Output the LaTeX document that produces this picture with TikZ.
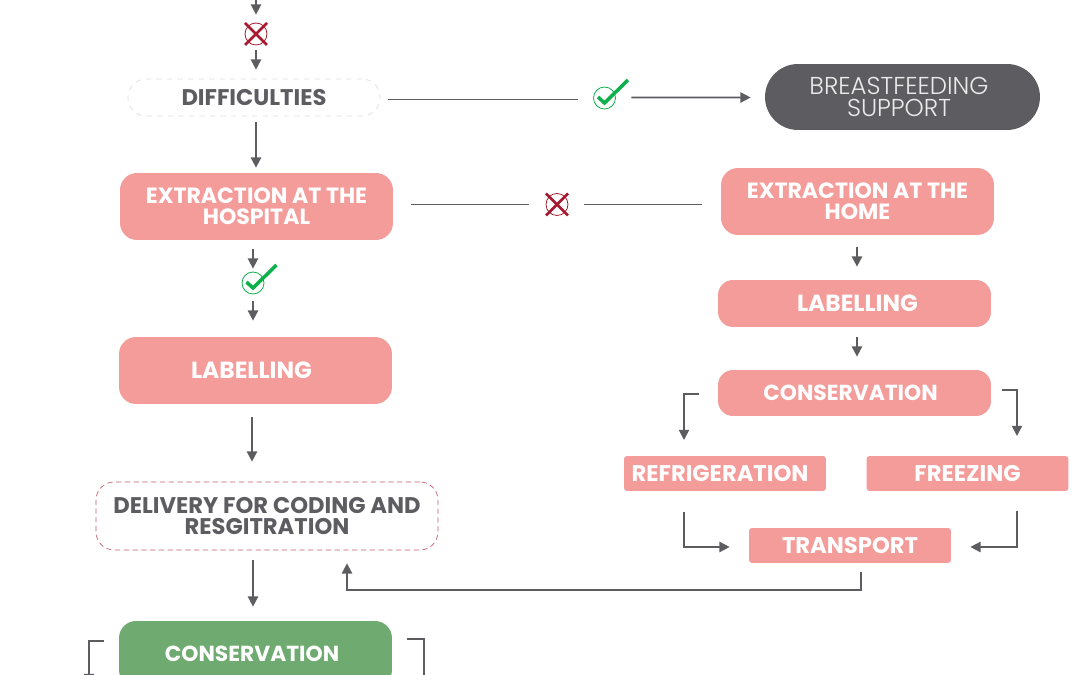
\documentclass[tikz,border=0pt]{standalone}
\usepackage{fontspec}
\setmainfont{Poppins}
\newfontfamily\lightfont{Poppins Light}
\usetikzlibrary{arrows.meta}
\definecolor{mygray}{HTML}{5D5C61}
\definecolor{mypink}{HTML}{F49C9A}
\definecolor{mygreen}{HTML}{6FAB70}
\definecolor{myred}{HTML}{A6192E}
\definecolor{mycheck}{HTML}{0DB14B}
\begin{document}
\begin{tikzpicture}[x=0.02cm,y=-0.02cm,
  myfont/.style={font=\bfseries\fontsize{#1}{12.1}\selectfont},
  mybox/.style={draw=none, fill=mypink, text=white, myfont=12.9, align=center, inner sep=0pt, rounded corners=0.34cm, minimum width=5.46cm, minimum height=1.34cm},
  mysmall/.style={mybox, rounded corners=0.06cm, minimum width=4.04cm, minimum height=0.7cm},
  mydash/.style={mybox, fill=none, text=mygray},
  mymark/.style={circle, draw, inner sep=0pt, minimum size=0.44cm, line width=0.45pt},
  myline/.style={draw=mygray, line width=0.95pt},
  myarrow/.style={myline, -{Triangle[width=5.8pt,length=5.8pt]}}]
  \clip (0,0) rectangle (1080,675);

  % left column
  \coordinate (top) at (256,0);
  \node[mymark, draw=myred] (xa) at (256,34) {};
  \node[mydash, draw=black!13, dashed, rounded corners=0.36cm, minimum width=5.04cm, minimum height=0.74cm] (diff) at (254,97.5) {DIFFICULTIES};
  \node[mybox, myfont=12.55] (hosp) at (256.5,206.5) {EXTRACTION AT THE\\HOSPITAL};
  \node[mymark, draw=mycheck] (okb) at (253,283) {};
  \node[mybox, myfont=13.3] (labl) at (255.5,370.5) {\hspace*{-0.16cm}LABELLING};
  \node[mydash, draw=myred!70, densely dashed, rounded corners=0.36cm, minimum width=6.84cm, minimum height=1.36cm] (deli) at (267,516) {DELIVERY FOR CODING AND\\RESGITRATION};
  \node[mybox, myfont=12.4, fill=mygreen, minimum height=1.32cm] (cons) at (255.5,654) {\hspace*{-0.14cm}CONSERVATION};

  % right column
  \node[mymark, draw=mycheck] (oka) at (604.5,98) {};
  \node[mybox, fill=mygray, text=black!8, font=\lightfont\fontsize{13.9}{12.1}\selectfont, rounded corners=0.66cm, minimum width=5.5cm, minimum height=1.32cm] (supp) at (902.5,97) {\hspace*{-0.14cm}BREASTFEEDING\\\hspace*{-0.14cm}SUPPORT};
  \node[mymark, draw=myred] (xb) at (557,204.5) {};
  \node[mybox, myfont=12.55] (home) at (857.5,201.5) {EXTRACTION AT THE\\HOME};
  \node[mybox, myfont=13.3, minimum height=0.94cm, rounded corners=0.3cm] (labr) at (854.5,303.5) {\hspace*{0.12cm}LABELLING};
  \node[mybox, myfont=12.4, minimum height=0.92cm, rounded corners=0.3cm] (conr) at (854.5,393) {\hspace*{-0.16cm}CONSERVATION};
  \node[mysmall] (refr) at (725,473.5) {\hspace*{-0.2cm}REFRIGERATION};
  \node[mysmall] (free) at (967.5,473.5) {FREEZING};
  \node[mysmall] (tran) at (850,545.5) {TRANSPORT};

  % marks
  \foreach \n in {xa,xb}
    \draw[myred, line width=1.6pt] ([shift={(-11,-11)}]\n.center) -- ([shift={(11,11)}]\n.center)
      ([shift={(11,-11)}]\n.center) -- ([shift={(-11,11)}]\n.center);
  \foreach \n in {oka,okb}
    \draw[mycheck, line width=2pt] ([shift={(-6.5,-1)}]\n.center) -- ([shift={(0,5)}]\n.center) -- ([shift={(23.5,-18)}]\n.center);

  % connectors
  \draw[myarrow, shorten >=0.16cm] (top) -- (xa);
  \draw[myarrow, shorten <=0.1cm, shorten >=0.18cm] (xa) -- (xa |- diff.north);
  \draw[myarrow, shorten <=0.12cm, shorten >=0.1cm] (xa |- diff.south) -- (xa |- hosp.north);
  \draw[myline] ([shift={(8,2)}]diff.east) -- ([shift={(-15,1.5)}]oka.west);
  \draw[myarrow] ([shift={(15.5,-0.5)}]oka.east) -- ([shift={(-14,0.5)}]supp.west);
  \draw[myline, shorten >=0.34cm] ([shift={(18,-2)}]hosp.east) -- (xb);
  \draw[myline, shorten <=0.32cm] (xb) -- ([shift={(-19,3)}]home.west);
  \draw[myarrow, shorten <=0.18cm, shorten >=0.06cm] (okb |- hosp.south) -- (okb);
  \draw[myarrow, shorten <=0.14cm, shorten >=0.32cm] (okb) -- (okb |- labl.north);
  \draw[myarrow, shorten <=0.26cm, shorten >=0.4cm] (labl.south -| 252,0) -- (deli.north -| 252,0);
  \draw[myarrow, shorten <=0.2cm, shorten >=0.28cm] (deli.south -| 253,0) -- (cons.north -| 253,0);
  \draw[myarrow, shorten <=0.24cm, shorten >=0.26cm] (home.south -| 857,0) -- (labr.north -| 857,0);
  \draw[myarrow, shorten <=0.2cm, shorten >=0.26cm] (labr.south -| 857,0) -- (conr.north -| 857,0);

  \draw[myarrow] ([shift={(-19,1)}]conr.west) -- (684,394) -- (684,440);
  \draw[myarrow] ([shift={(11,-3)}]conr.east) -- (1017,390) -- (1017,436);
  \draw[myarrow] ([yshift=-0.42cm]refr.south -| 684,0) -- (684,547) -- ([xshift=-0.38cm]tran.west |- 0,547);
  \draw[myarrow] ([yshift=-0.4cm]free.south -| 1017,0) -- (1017,547) -- ([xshift=0.38cm]tran.east |- 0,547);
  \draw[myarrow] ([yshift=-0.18cm]tran.south -| 861,0) -- (861,590) -- (347,590) -- ([yshift=-0.26cm]deli.south -| 347,0);

  % arrows leaving the frame
  \coordinate (lout) at (89,684);
  \coordinate (rout) at (424,695);
  \draw[myarrow] ([shift={(-14.5,-13)}]cons.west) -- (89,641) -- (lout);
  \draw[myarrow] ([shift={(15,-15)}]cons.east) -- (424,639) -- (rout);
\end{tikzpicture}
\end{document}
